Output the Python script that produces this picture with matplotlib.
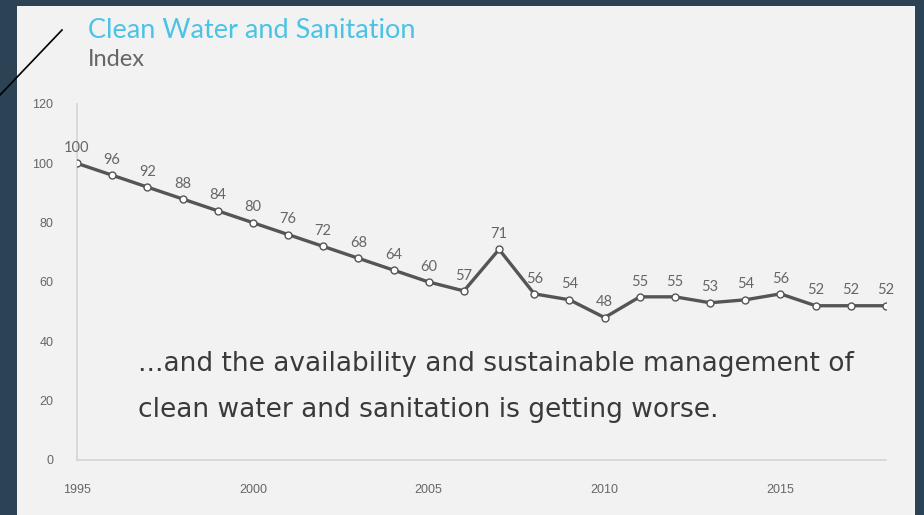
import matplotlib.pyplot as plt
from matplotlib.lines import Line2D

# Data
years = list(range(1995, 2019))
index_values = [100, 96, 92, 88, 84, 80, 76, 72, 68, 64, 60, 57, 71,
                56, 54, 48, 55, 55, 53, 54, 56, 52, 52, 52]
x_ticks = [1995, 2000, 2005, 2010, 2015]
y_ticks = [0, 20, 40, 60, 80, 100, 120]

fig = plt.figure(figsize=(9.24, 5.15), dpi=100)
fig.patch.set_facecolor('#2c4356')

# light panel behind everything
bg = fig.add_axes([17 / 924, 0, (915 - 17) / 924, 1 - 6 / 515], zorder=-5)
bg.axis('off')
bg.add_patch(plt.Rectangle((0, 0), 1, 1, transform=bg.transAxes,
                           facecolor='#f2f2f2', edgecolor='none'))

ax = fig.add_axes([77 / 924, 55 / 515, (886 - 77) / 924, (460 - 104) / 515])
ax.set_facecolor('none')

ax.plot(years, index_values, color='#555555', linewidth=2.4, marker='o',
        markersize=5, markerfacecolor='white', markeredgecolor='#555555',
        markeredgewidth=1.0, zorder=3)

for yr, v in zip(years, index_values):
    ax.annotate(str(v), (yr, v), xytext=(0, 6), textcoords='offset points',
                ha='center', va='bottom', fontsize=10.5, color='#666666',
                family='Lato')

ax.set_xlim(1995, 2018)
ax.set_ylim(0, 120)
ax.set_xticks(x_ticks)
ax.set_yticks(y_ticks)
ax.tick_params(length=0, labelsize=9, labelcolor='#666666')
ax.tick_params(axis='x', pad=17)
ax.tick_params(axis='y', pad=17)
for lab in ax.get_xticklabels() + ax.get_yticklabels():
    lab.set_family('Liberation Sans')
for s in ['top', 'right']:
    ax.spines[s].set_visible(False)
for s in ['left', 'bottom']:
    ax.spines[s].set_color('#d4d4d8')
    ax.spines[s].set_linewidth(1.2)

fig.text(138 / 924, 1 - 364 / 515,
         '...and the availability and sustainable management of',
         fontsize=19, color='#3a3a3a', family='DejaVu Sans', va='center', ha='left')
fig.text(138 / 924, 1 - 410 / 515,
         'clean water and sanitation is getting worse.',
         fontsize=19, color='#3a3a3a', family='DejaVu Sans', va='center', ha='left')

fig.text(88 / 924, 1 - 30 / 515, 'Clean Water and Sanitation',
         fontsize=19.5, color='#4cc3e6', family='Lato', va='center', ha='left')
fig.text(88 / 924, 1 - 60 / 515, 'Index',
         fontsize=17, color='#666666', family='Lato', va='center', ha='left')

fig.lines.append(Line2D([0, 62 / 924], [1 - 95 / 515, 1 - 30 / 515],
                        transform=fig.transFigure, color='black', linewidth=1.2))

fig.savefig('out.png', dpi=100, facecolor=fig.get_facecolor())
